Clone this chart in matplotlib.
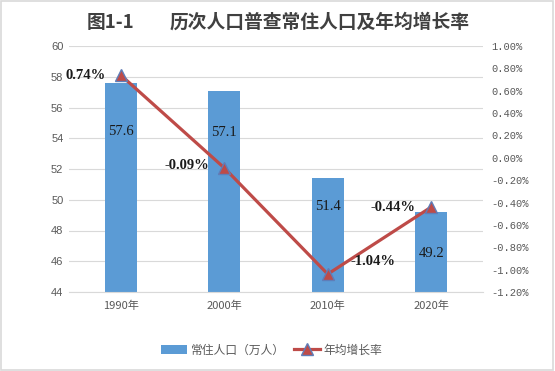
import matplotlib
matplotlib.use("Agg")
import matplotlib.pyplot as plt
from matplotlib.lines import Line2D
from matplotlib.patches import Patch, Rectangle

years = ["1990年", "2000年", "2010年", "2020年"]
population = [57.6, 57.1, 51.4, 49.2]
growth = [0.74, -0.09, -1.04, -0.44]
left_ticks = [44, 46, 48, 50, 52, 54, 56, 58, 60]
right_ticks = [-1.2, -1.0, -0.8, -0.6, -0.4, -0.2, 0.0, 0.2, 0.4, 0.6, 0.8, 1.0]

# label offsets (pixels) relative to the marks
bar_label_dy = [-49, -42, -28, -41]
line_label_off = [(-15, 0, "right"), (-15, 2, "right"), (23, 13, "left"), (-16, 0, "right")]

CJK = ["Noto Sans CJK SC", "DejaVu Sans"]
SERIF = ["Liberation Serif", "DejaVu Serif"]
MONO = ["Liberation Mono", "DejaVu Sans Mono"]
BAR = "#5b9bd5"
LINE = "#be4b48"
TICK = "#595959"

fig = plt.figure(figsize=(5.55, 3.71), dpi=100)
fig.patches.append(Rectangle((0.002, 0.003), 0.995, 0.994, transform=fig.transFigure,
                             fill=False, edgecolor="#d9d9d9", linewidth=1.2))

ax = fig.add_axes([69/555, 1-292/371, (483-69)/555, (292-46)/371])
x = list(range(len(years)))
ax.bar(x, population, width=0.31, color=BAR, zorder=2)
ax.set_ylim(44, 60)
ax.set_xlim(-0.5, 3.5)
ax.set_yticks(left_ticks)
ax.set_yticklabels([str(v) for v in left_ticks], fontfamily="Liberation Sans", fontsize=8, color=TICK)
ax.set_xticks(x)
ax.set_xticklabels(years, fontfamily=CJK, fontsize=8, color=TICK)
ax.tick_params(axis="both", length=0, pad=4)
ax.tick_params(axis="x", pad=6)
ax.grid(axis="y", color="#d9d9d9", linewidth=0.8, zorder=0)
for s in ax.spines.values():
    s.set_visible(False)
ax.spines["bottom"].set_visible(True)
ax.spines["bottom"].set_color("#d9d9d9")
ax.spines["bottom"].set_linewidth(0.8)

for xi, v, dy in zip(x, population, bar_label_dy):
    ax.annotate(f"{v}", (xi, v), xytext=(0, dy), textcoords="offset pixels",
                ha="center", va="center", fontfamily=SERIF, fontsize=10.5, color="#1a1a1a", zorder=5)

ax2 = ax.twinx()
ax2.set_ylim(-1.2, 1.0)
ax2.set_yticks(right_ticks)
ax2.set_yticklabels([f"{v:.2f}%" for v in right_ticks], fontfamily=MONO, fontsize=7.5, color=TICK)
ax2.tick_params(axis="y", length=0, pad=6)
for s in ax2.spines.values():
    s.set_visible(False)
ax2.plot(x, growth, color=LINE, linewidth=2.3, marker="^", markersize=9,
         markerfacecolor=LINE, markeredgecolor="#5f7db8", markeredgewidth=1.0, zorder=4)

for xi, g, (dx, dy, ha) in zip(x, growth, line_label_off):
    ax2.annotate(f"{g:.2f}%", (xi, g), xytext=(dx, dy), textcoords="offset pixels",
                 ha=ha, va="center", fontfamily=SERIF, fontsize=10.5, fontweight="bold",
                 color="#1a1a1a", zorder=6)

fig.text(87/555, 1-22/371, "图1-1", fontfamily=CJK, fontsize=13.5, fontweight="bold",
         color="#404040", ha="left", va="center")
fig.text(170/555, 1-22/371, "历次人口普查常住人口及年均增长率", fontfamily=CJK, fontsize=13.5,
         fontweight="bold", color="#404040", ha="left", va="center")

handles = [Patch(facecolor=BAR, edgecolor="none"),
           Line2D([0], [0], color=LINE, linewidth=2.3, marker="^", markersize=8,
                  markerfacecolor=LINE, markeredgecolor="#5f7db8")]
fig.legend(handles, ["常住人口（万人）", "年均增长率"], loc="center", bbox_to_anchor=(0.49, 1-350/371),
           ncol=2, frameon=False, prop={"family": CJK, "size": 8.5}, labelcolor=TICK,
           handlelength=2.2, handleheight=0.7, handletextpad=0.3, columnspacing=0.8)

fig.savefig("out.png", dpi=100)
